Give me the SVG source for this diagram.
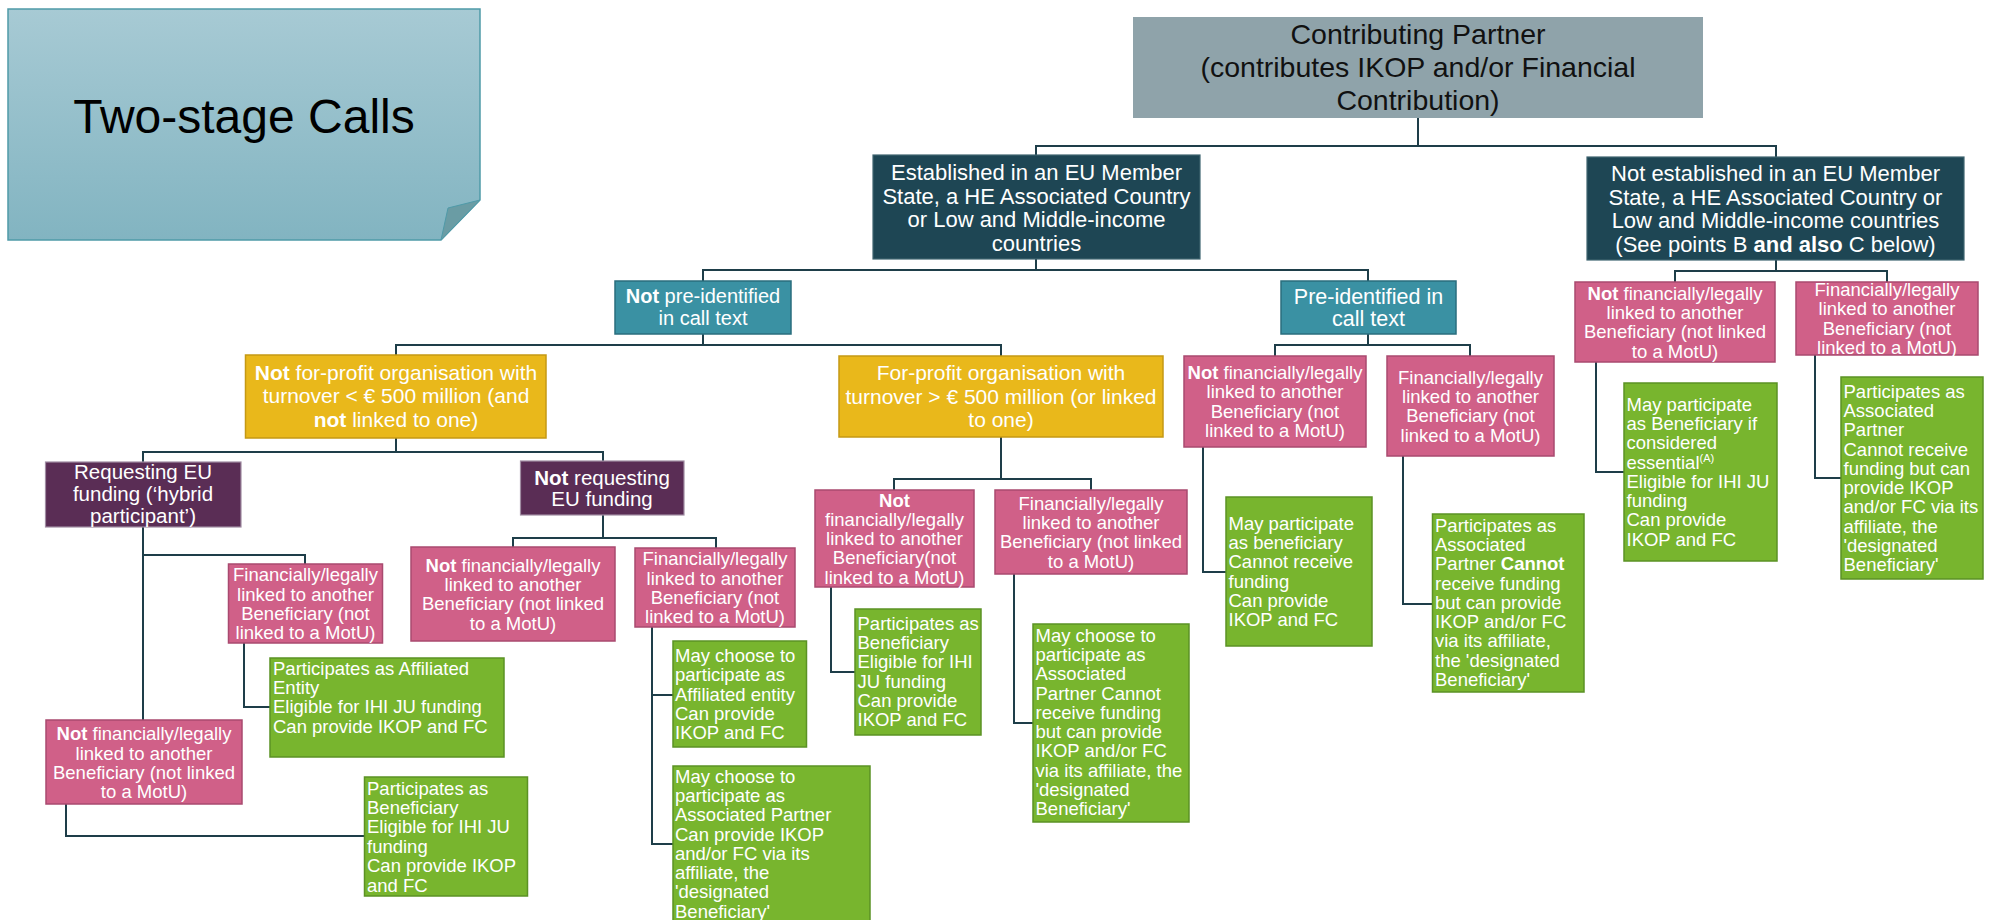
<svg xmlns="http://www.w3.org/2000/svg" width="1998" height="920" viewBox="0 0 1998 920">
<defs>
<linearGradient id="noteGrad" x1="0" y1="0" x2="0" y2="1">
<stop offset="0" stop-color="#a7cad4"/>
<stop offset="1" stop-color="#82b4c1"/>
</linearGradient>
</defs>
<style>
text{font-family:"Liberation Sans",Arial,sans-serif;fill:#fff}
.c{text-anchor:middle}
.b{font-weight:bold}
.f18{font-size:18.5px}
.f20{font-size:20.5px}
.f21{font-size:21px}
.f22{font-size:22px}
.pink{fill:#d06088;stroke:#a94a6f;stroke-width:1.5}
.green{fill:#78b52e;stroke:#5b9224;stroke-width:1.5}
.yellow{fill:#e9b81b;stroke:#c59914;stroke-width:1.5}
.purple{fill:#5a2d55;stroke:#a08ca2;stroke-width:1.2}
.teal{fill:#3a91a3;stroke:#2a6e7e;stroke-width:1.5}
.dark{fill:#1e4654;stroke:#3f6470;stroke-width:1.2}
.conn path{fill:none;stroke:#1e3e49;stroke-width:2}
</style>
<rect width="1998" height="920" fill="#ffffff"/>

<g id="title">
<path d="M8 9 H480 V200 L441 240 H8 Z" fill="url(#noteGrad)" stroke="#4f9aa8" stroke-width="1.5"/>
<path d="M441 240 L448 208 L480 200 Z" fill="#6a9ca4" stroke="#4f9aa8" stroke-width="1"/>
<text x="244" y="133" class="c" style="font-size:48px;fill:#000">Two-stage Calls</text>
</g>

<g class="conn" id="connectors">
<path d="M1418 118 V146"/>
<path d="M1036 155 V146 H1776 V157"/>
<path d="M1036 259 V270"/>
<path d="M703 281 V270 H1368 V281"/>
<path d="M703 334 V345"/>
<path d="M396 355 V345 H1001 V356"/>
<path d="M1368 334 V345"/>
<path d="M1275 356 V345 H1470 V356"/>
<path d="M1776 260 V271"/>
<path d="M1675 282 V271 H1887 V282"/>
<path d="M1596 362 V472 H1624"/>
<path d="M1815 355 V478 H1841"/>
<path d="M1203 447 V572 H1226"/>
<path d="M1403 456 V604 H1432"/>
<path d="M1001 437 V479"/>
<path d="M894 490 V479 H1091 V490"/>
<path d="M831 587 V672 H855"/>
<path d="M1014 574 V723 H1033"/>
<path d="M396 438 V452"/>
<path d="M143 462 V452 H603 V461"/>
<path d="M143 527 V720"/>
<path d="M143 555 H305 V564"/>
<path d="M603 515 V538"/>
<path d="M513 547 V538 H716 V548"/>
<path d="M244 643 V707 H270"/>
<path d="M66 804 V836 H364"/>
<path d="M652 627 V844 H673"/>
<path d="M652 695 H673"/>
</g>

<g id="contributing-partner">
<rect x="1133" y="17" width="570" height="101" fill="#8fa3aa"/>
<text class="c" x="1418" style="font-size:28.5px;fill:#111"><tspan x="1418" y="44">Contributing Partner</tspan><tspan x="1418" y="77">(contributes IKOP and/or Financial</tspan><tspan x="1418" y="110">Contribution)</tspan></text>
</g>

<g id="established">
<rect x="873" y="155" width="327" height="104" class="dark"/>
<text class="c f22"><tspan x="1036.5" y="180">Established in an EU Member</tspan><tspan x="1036.5" y="203.5">State, a HE Associated Country</tspan><tspan x="1036.5" y="227">or Low and Middle-income</tspan><tspan x="1036.5" y="250.5">countries</tspan></text>
</g>

<g id="not-established">
<rect x="1587" y="157" width="377" height="103" class="dark"/>
<text class="c f22"><tspan x="1775.5" y="181">Not established  in an EU Member</tspan><tspan x="1775.5" y="204.5">State, a HE Associated Country or</tspan><tspan x="1775.5" y="228">Low and Middle-income countries</tspan><tspan x="1775.5" y="251.5">(See points B <tspan class="b">and also</tspan> C below)</tspan></text>
</g>

<g id="not-pre-identified">
<rect x="615" y="281" width="176" height="53" class="teal"/>
<text class="c" style="font-size:20px"><tspan x="703" y="303"><tspan class="b">Not</tspan> pre-identified</tspan><tspan x="703" y="325">in call text</tspan></text>
</g>

<g id="pre-identified">
<rect x="1281" y="281" width="175" height="53" class="teal"/>
<text class="c" style="font-size:21.5px"><tspan x="1368.5" y="304">Pre-identified in</tspan><tspan x="1368.5" y="326">call text</tspan></text>
</g>

<g id="not-for-profit">
<rect x="245.5" y="355" width="300.5" height="83" class="yellow"/>
<text class="c f21"><tspan x="396" y="379.5"><tspan class="b">Not</tspan> for-profit organisation with</tspan><tspan x="396" y="402.5">turnover  &lt; € 500  million (and</tspan><tspan x="396" y="426.5"><tspan class="b">not</tspan> linked to one)</tspan></text>
</g>

<g id="for-profit">
<rect x="839" y="356" width="324" height="81" class="yellow"/>
<text class="c f21"><tspan x="1001" y="379.5">For-profit organisation with</tspan><tspan x="1001" y="403.5">turnover &gt; € 500 million (or linked</tspan><tspan x="1001" y="426.5">to one)</tspan></text>
</g>

<g id="requesting">
<rect x="45.5" y="462" width="195.5" height="65" class="purple"/>
<text class="c f20"><tspan x="143" y="479">Requesting EU</tspan><tspan x="143" y="501">funding (‘hybrid</tspan><tspan x="143" y="522.5">participant’)</tspan></text>
</g>

<g id="not-requesting">
<rect x="520.5" y="461" width="163.5" height="54" class="purple"/>
<text class="c f20"><tspan x="602" y="484.5"><tspan class="b">Not</tspan> requesting</tspan><tspan x="602" y="505.5">EU funding</tspan></text>
</g>

<g id="req-linked">
<rect x="228.5" y="564" width="154" height="79" class="pink"/>
<text class="c f18"><tspan x="305.5" y="581">Financially/legally</tspan><tspan x="305.5" y="600.5">linked to another</tspan><tspan x="305.5" y="619.5">Beneficiary (not</tspan><tspan x="305.5" y="639">linked to a MotU)</tspan></text>
</g>

<g id="req-not-linked">
<rect x="46" y="720" width="196" height="84" class="pink"/>
<text class="c f18"><tspan x="144" y="739.6"><tspan class="b">Not</tspan> financially/legally</tspan><tspan x="144" y="759.6">linked to another</tspan><tspan x="144" y="778.6">Beneficiary (not linked</tspan><tspan x="144" y="797.6">to a MotU)</tspan></text>
</g>

<g id="nreq-not-linked">
<rect x="411" y="547" width="204" height="94" class="pink"/>
<text class="c f18"><tspan x="513" y="571.6"><tspan class="b">Not</tspan> financially/legally</tspan><tspan x="513" y="591">linked to another</tspan><tspan x="513" y="610">Beneficiary (not linked</tspan><tspan x="513" y="629.6">to a MotU)</tspan></text>
</g>

<g id="nreq-linked">
<rect x="635" y="548" width="160" height="79" class="pink"/>
<text class="c f18"><tspan x="715" y="565">Financially/legally</tspan><tspan x="715" y="584.5">linked to another</tspan><tspan x="715" y="603.5">Beneficiary (not</tspan><tspan x="715" y="623">linked to a MotU)</tspan></text>
</g>

<g id="fp-not-linked">
<rect x="815" y="490" width="159" height="97" class="pink"/>
<text class="c f18"><tspan x="894.5" y="506.5" class="b">Not</tspan><tspan x="894.5" y="525.8">financially/legally</tspan><tspan x="894.5" y="545.1">linked to another</tspan><tspan x="894.5" y="564.4">Beneficiary(not</tspan><tspan x="894.5" y="583.7">linked to a MotU)</tspan></text>
</g>

<g id="fp-linked">
<rect x="995" y="490" width="192" height="84" class="pink"/>
<text class="c f18"><tspan x="1091" y="509.6">Financially/legally</tspan><tspan x="1091" y="528.9">linked to another</tspan><tspan x="1091" y="548.3">Beneficiary (not linked</tspan><tspan x="1091" y="567.6">to a MotU)</tspan></text>
</g>

<g id="pi-not-linked">
<rect x="1184" y="356" width="182" height="91" class="pink"/>
<text class="c f18"><tspan x="1275" y="379"><tspan class="b">Not</tspan> financially/legally</tspan><tspan x="1275" y="398.4">linked to another</tspan><tspan x="1275" y="417.8">Beneficiary (not</tspan><tspan x="1275" y="437.1">linked to a MotU)</tspan></text>
</g>

<g id="pi-linked">
<rect x="1387" y="356" width="167" height="100" class="pink"/>
<text class="c f18"><tspan x="1470.5" y="383.6">Financially/legally</tspan><tspan x="1470.5" y="402.9">linked to another</tspan><tspan x="1470.5" y="422.3">Beneficiary (not</tspan><tspan x="1470.5" y="441.6">linked to a MotU)</tspan></text>
</g>

<g id="nest-not-linked">
<rect x="1575" y="282" width="200" height="80" class="pink"/>
<text class="c f18"><tspan x="1675" y="299.6"><tspan class="b">Not</tspan> financially/legally</tspan><tspan x="1675" y="318.9">linked to another</tspan><tspan x="1675" y="338.3">Beneficiary (not linked</tspan><tspan x="1675" y="357.6">to a MotU)</tspan></text>
</g>

<g id="nest-linked">
<rect x="1796" y="282" width="182" height="73" class="pink"/>
<text class="c f18"><tspan x="1887" y="296">Financially/legally</tspan><tspan x="1887" y="315.4">linked to another</tspan><tspan x="1887" y="334.8">Beneficiary (not</tspan><tspan x="1887" y="354.1">linked to a MotU)</tspan></text>
</g>

<g id="g-affiliated">
<rect x="270" y="658" width="234" height="99" class="green"/>
<text class="f18"><tspan x="273" y="674.6">Participates as Affiliated</tspan><tspan x="273" y="693.9">Entity</tspan><tspan x="273" y="713.2">Eligible for IHI JU funding</tspan><tspan x="273" y="732.5">Can provide IKOP and FC</tspan></text>
</g>

<g id="g-beneficiary">
<rect x="364.5" y="777" width="163" height="119" class="green"/>
<text class="f18"><tspan x="367" y="794.6">Participates as</tspan><tspan x="367" y="814">Beneficiary</tspan><tspan x="367" y="833.4">Eligible for IHI JU</tspan><tspan x="367" y="852.8">funding</tspan><tspan x="367" y="872.2">Can provide IKOP</tspan><tspan x="367" y="891.6">and FC</tspan></text>
</g>

<g id="g-nreq-a">
<rect x="673" y="641" width="133.5" height="106" class="green"/>
<text class="f18"><tspan x="675" y="662">May choose to</tspan><tspan x="675" y="681.3">participate as</tspan><tspan x="675" y="700.6">Affiliated entity</tspan><tspan x="675" y="719.9">Can provide</tspan><tspan x="675" y="739.2">IKOP and FC</tspan></text>
</g>

<g id="g-nreq-b">
<rect x="673" y="766" width="197" height="170" class="green"/>
<text class="f18"><tspan x="675" y="782.6">May choose to</tspan><tspan x="675" y="801.9">participate as</tspan><tspan x="675" y="821.2">Associated Partner</tspan><tspan x="675" y="840.5">Can provide IKOP</tspan><tspan x="675" y="859.8">and/or FC via its</tspan><tspan x="675" y="879.1">affiliate, the</tspan><tspan x="675" y="898.4">'designated</tspan><tspan x="675" y="917.7">Beneficiary'</tspan></text>
</g>

<g id="g-fp-nl">
<rect x="855" y="609" width="126" height="126" class="green"/>
<text class="f18"><tspan x="857.5" y="629.6">Participates as</tspan><tspan x="857.5" y="648.9">Beneficiary</tspan><tspan x="857.5" y="668.2">Eligible for IHI</tspan><tspan x="857.5" y="687.5">JU funding</tspan><tspan x="857.5" y="706.8">Can provide</tspan><tspan x="857.5" y="726.1">IKOP and FC</tspan></text>
</g>

<g id="g-fp-l">
<rect x="1033" y="624" width="156" height="198" class="green"/>
<text class="f18"><tspan x="1035.5" y="641.6">May  choose to</tspan><tspan x="1035.5" y="660.9">participate as</tspan><tspan x="1035.5" y="680.2">Associated</tspan><tspan x="1035.5" y="699.5">Partner Cannot</tspan><tspan x="1035.5" y="718.8">receive funding</tspan><tspan x="1035.5" y="738.1">but can provide</tspan><tspan x="1035.5" y="757.4">IKOP and/or FC</tspan><tspan x="1035.5" y="776.7">via its affiliate, the</tspan><tspan x="1035.5" y="796">'designated</tspan><tspan x="1035.5" y="815.3">Beneficiary'</tspan></text>
</g>

<g id="g-pi-nl">
<rect x="1226" y="497" width="146" height="149" class="green"/>
<text class="f18"><tspan x="1228.5" y="529.6">May participate</tspan><tspan x="1228.5" y="548.9">as beneficiary</tspan><tspan x="1228.5" y="568.2">Cannot receive</tspan><tspan x="1228.5" y="587.5">funding</tspan><tspan x="1228.5" y="606.8">Can provide</tspan><tspan x="1228.5" y="626.1">IKOP and FC</tspan></text>
</g>

<g id="g-pi-l">
<rect x="1432.5" y="514" width="151.5" height="178" class="green"/>
<text class="f18"><tspan x="1435" y="531.6">Participates as</tspan><tspan x="1435" y="550.9">Associated</tspan><tspan x="1435" y="570.2">Partner <tspan class="b">Cannot</tspan></tspan><tspan x="1435" y="589.5">receive funding</tspan><tspan x="1435" y="608.8">but can provide</tspan><tspan x="1435" y="628.1">IKOP and/or FC</tspan><tspan x="1435" y="647.4">via its affiliate,</tspan><tspan x="1435" y="666.7">the 'designated</tspan><tspan x="1435" y="686">Beneficiary'</tspan></text>
</g>

<g id="g-nest-nl">
<rect x="1624" y="383" width="153" height="178" class="green"/>
<text class="f18"><tspan x="1626.5" y="410.6">May participate</tspan><tspan x="1626.5" y="429.9">as Beneficiary if</tspan><tspan x="1626.5" y="449.2">considered</tspan><tspan x="1626.5" y="468.5">essential<tspan style="font-size:11px" dy="-7">(A)</tspan></tspan><tspan x="1626.5" y="487.8">Eligible for IHI JU</tspan><tspan x="1626.5" y="507.1">funding</tspan><tspan x="1626.5" y="526.4">Can provide</tspan><tspan x="1626.5" y="545.7">IKOP and FC</tspan></text>
</g>

<g id="g-nest-l">
<rect x="1841" y="377" width="142" height="202" class="green"/>
<text class="f18"><tspan x="1843.5" y="397.6">Participates as</tspan><tspan x="1843.5" y="416.9">Associated</tspan><tspan x="1843.5" y="436.2">Partner</tspan><tspan x="1843.5" y="455.5">Cannot receive</tspan><tspan x="1843.5" y="474.8">funding but can</tspan><tspan x="1843.5" y="494.1">provide IKOP</tspan><tspan x="1843.5" y="513.4">and/or FC via its</tspan><tspan x="1843.5" y="532.7">affiliate, the</tspan><tspan x="1843.5" y="552">'designated</tspan><tspan x="1843.5" y="571.3">Beneficiary'</tspan></text>
</g>
</svg>
